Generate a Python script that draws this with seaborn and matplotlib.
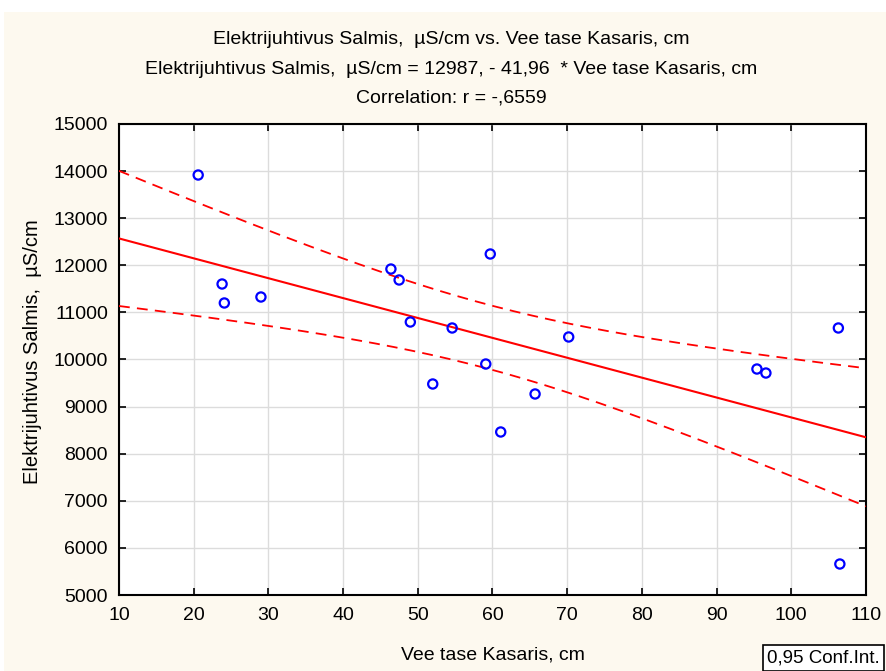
import numpy as np
import pandas as pd
import matplotlib
matplotlib.use("Agg")
import matplotlib.pyplot as plt
import seaborn as sns
from matplotlib.patches import Rectangle

# ---- data ----
vee_tase = [20.6, 23.8, 24.1, 29.0, 46.4, 47.5, 49.0, 52.0, 54.6, 59.7,
            59.1, 61.1, 65.7, 70.2, 95.4, 96.6, 106.3, 106.5]
elektrijuhtivus = [13917, 11603, 11200, 11327, 11921, 11688, 10796, 9480, 10669, 12240,
                   9904, 8461, 9268, 10478, 9798, 9713, 10669, 5658]
x_ticks = [10, 20, 30, 40, 50, 60, 70, 80, 90, 100, 110]
y_ticks = [5000, 6000, 7000, 8000, 9000, 10000, 11000, 12000, 13000, 14000, 15000]

title_lines = ["Elektrijuhtivus Salmis,  µS/cm vs. Vee tase Kasaris, cm",
               "Elektrijuhtivus Salmis,  µS/cm = 12987, - 41,96  * Vee tase Kasaris, cm",
               "Correlation: r = -,6559"]
x_label = "Vee tase Kasaris, cm"
y_label = "Elektrijuhtivus Salmis,  µS/cm"
legend_text = "0,95 Conf.Int."

df = pd.DataFrame({"x": vee_tase, "y": elektrijuhtivus})

# regression + analytic 95% confidence band
x = np.asarray(vee_tase, float)
y = np.asarray(elektrijuhtivus, float)
n = len(x)
slope, intercept = np.polyfit(x, y, 1)
resid = y - (intercept + slope * x)
s = np.sqrt(np.sum(resid ** 2) / (n - 2))
t_val = 2.1199  # t(0.975, df=16)
xs = np.linspace(x_ticks[0], x_ticks[-1], 200)
fit = intercept + slope * xs
half = t_val * s * np.sqrt(1 / n + (xs - x.mean()) ** 2 / np.sum((x - x.mean()) ** 2))
band = pd.DataFrame({"xs": xs, "fit": fit, "lo": fit - half, "hi": fit + half})

sns.set_theme(style="white")
plt.rcParams["font.family"] = ["Liberation Sans", "DejaVu Sans"]
plt.rcParams["text.color"] = "black"

fig = plt.figure(figsize=(8.87, 6.71), dpi=100)
fig.patch.set_facecolor("white")
fig.patches.append(Rectangle((4 / 887, 0), 1, 1 - 12 / 671, transform=fig.transFigure,
                             facecolor="#FDF9EF", edgecolor="none", zorder=-10))

ax = fig.add_axes([119 / 887, 1 - 595 / 671, (866 - 119) / 887, (595 - 124) / 671])
ax.set_facecolor("white")

ax.grid(True, color="#DCDCDC", linewidth=1.0)
ax.set_axisbelow(True)

sns.lineplot(data=band, x="xs", y="fit", ax=ax, color="#FF0000", linewidth=1.5, zorder=3)
sns.lineplot(data=band, x="xs", y="lo", ax=ax, color="#FF0000", linewidth=1.3,
             linestyle=(0, (6, 4)), zorder=3)
sns.lineplot(data=band, x="xs", y="hi", ax=ax, color="#FF0000", linewidth=1.3,
             linestyle=(0, (6, 4)), zorder=3)
sns.scatterplot(data=df, x="x", y="y", ax=ax, marker="o", s=44,
                facecolor="none", edgecolor="#0000FF", linewidth=1.6, zorder=4)

ax.set_xlim(x_ticks[0], x_ticks[-1])
ax.set_ylim(y_ticks[0], y_ticks[-1])
ax.set_xticks(x_ticks)
ax.set_yticks(y_ticks)
ax.set_xticklabels([str(v) for v in x_ticks])
ax.set_yticklabels([str(v) for v in y_ticks])
ax.tick_params(axis="both", direction="in", length=5, width=1.2, color="black",
               labelsize=14, labelcolor="black", top=True, right=True,
               bottom=True, left=True)
ax.tick_params(axis="x", pad=9)
ax.tick_params(axis="y", pad=8)
for sp in ax.spines.values():
    sp.set_color("black")
    sp.set_linewidth(1.5)

ax.set_xlabel("")
ax.set_ylabel("")
fig.text(493 / 887, 1 - 655 / 671, x_label, ha="center", va="center", fontsize=14,
         color="black")
fig.text(33 / 887, 1 - 352 / 671, y_label, ha="center", va="center", fontsize=14.5,
         rotation=90, color="black")

narrow = ["Liberation Sans Narrow", "Liberation Sans", "DejaVu Sans"]
for txt, yy in zip(title_lines, [40, 69, 98]):
    fig.text(451 / 887, 1 - yy / 671, txt, ha="center", va="center", fontsize=14,
             family=narrow, color="black")

fig.text(767 / 887, 1 - 658 / 671, legend_text, ha="left", va="center", fontsize=13.5,
         color="black",
         bbox=dict(boxstyle="square,pad=0.22", facecolor="white", edgecolor="black",
                   linewidth=1.2))

fig.savefig("out.png", dpi=100, facecolor=fig.get_facecolor())
